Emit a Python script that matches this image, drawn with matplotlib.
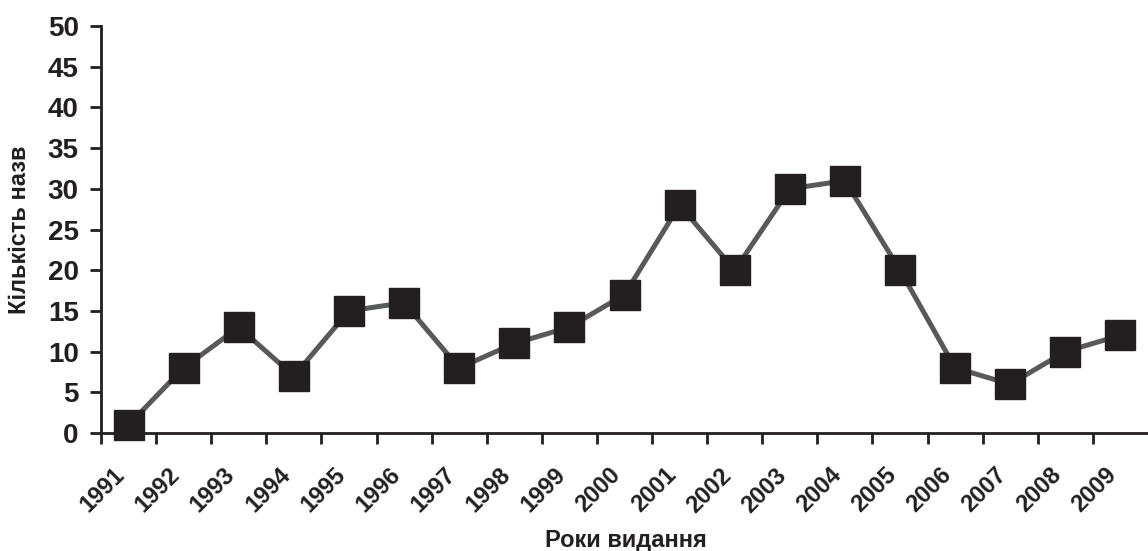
import matplotlib
matplotlib.use("Agg")
import matplotlib.pyplot as plt
import numpy as np

years = [str(y) for y in range(1991, 2010)]
counts = [1, 8, 13, 7, 15, 16, 8, 11, 13, 17, 28, 20, 30, 31, 20, 8, 6, 10, 12]
y_ticks = list(range(0, 51, 5))

plt.rcParams["font.family"] = ["Liberation Sans", "DejaVu Sans"]
plt.rcParams["font.weight"] = "bold"

fig = plt.figure(figsize=(11.48, 5.51), dpi=100)
ax = fig.add_axes([101 / 1148, 1 - 433 / 551, 1 - 101 / 1148, (433 - 26) / 551])

x = np.arange(len(years))
ax.plot(x, counts, color="#58595b", linewidth=3.6, marker="s", markersize=21,
        markerfacecolor="#231f20", markeredgecolor="#231f20", clip_on=False, zorder=3)

ax.set_xlim(-0.5, len(years) - 0.5)
ax.set_ylim(0, 50)

# category ticks sit on the boundaries, labels between them
ax.set_xticks(x - 0.5)
ax.set_xticklabels([])
ax.set_xticks(x - 0.28, minor=True)
ax.set_xticklabels(years, minor=True, rotation=45, ha="right", va="top",
                   rotation_mode="anchor", fontsize=17, fontweight="bold", color="#231f20")
ax.tick_params(axis="x", which="minor", length=0, pad=22)
ax.tick_params(axis="x", which="major", direction="out", length=8, width=2, color="#231f20")

ax.set_yticks(y_ticks)
ax.set_yticklabels([str(v) for v in y_ticks], fontsize=20, fontweight="bold", color="#231f20")
ax.tick_params(axis="y", direction="out", length=8, width=2, color="#231f20", pad=8)

for side in ["top", "right"]:
    ax.spines[side].set_visible(False)
for side in ["left", "bottom"]:
    ax.spines[side].set_linewidth(2)
    ax.spines[side].set_color("#231f20")

fig.text(626 / 1148, 1 - 540 / 551, "Роки видання", ha="center", va="center",
         fontsize=17, fontweight="bold", color="#231f20")
fig.text(20 / 1148, 1 - 230 / 551, "Кількість назв", ha="center", va="center",
         rotation=90, fontsize=17, fontweight="bold", color="#231f20")

fig.savefig("out.png", dpi=100)
